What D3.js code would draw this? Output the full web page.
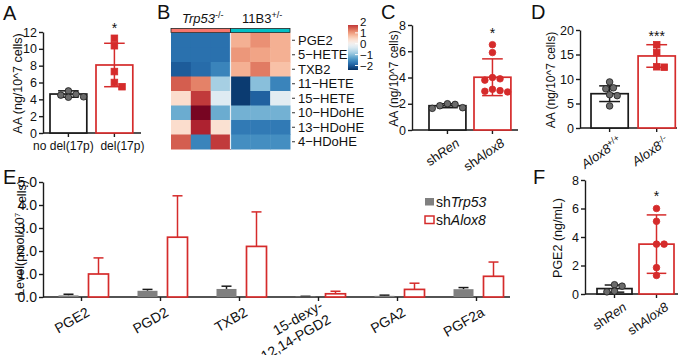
<!DOCTYPE html>
<html>
<head>
<meta charset="utf-8">
<script src="https://cdn.jsdelivr.net/npm/d3@7"></script>
<style>
body { margin: 0; background: #fff; }
text { font-family: "Liberation Sans", Arial, sans-serif; fill: #111; }
</style>
</head>
<body>
<svg id="fig" width="685" height="355"></svg>
<script>
var RED = '#d52b2b';
var DARK = '#1a1a1a';

// panel A - AA level, del(17p)
var aGroups = ['no del(17p)', 'del(17p)'];
var aMeans = [4.63, 8.08];
var aSds = [0.38, 2.58];
var aPoints = [[5.0, 4.6, 4.5, 4.3, 4.25], [11.25, 10.37, 7.3, 6.0, 5.5]];
var aTicks = [0, 2, 4, 6, 8, 10, 12];

// panel B - heatmap (z-scores)
var hmRows = ['PGE2', '5\u2212HETE', 'TXB2', '11\u2212HETE', '15\u2212HETE', '10\u2212HDoHE', '13\u2212HDoHE', '4\u2212HDoHE'];
var hmCols = ['t1', 't2', 't3', 'b1', 'b2', 'b3'];
var hmGroups = ['_Trp53_^{-/-}', '11B3^{+/-}'];
var hmValues = [
    [-1.8, -1.8, -1.8, 0.85, 1.1, 0.85],
    [-1.8, -1.8, -1.8, 1.05, 0.95, 0.85],
    [-2.0, -1.85, -1.6, 0.85, 1.25, 0.7],
    [1.45, 1.2, -0.8, -2.3, -1.0, -1.6],
    [0.4, 1.7, -0.3, -2.3, -1.95, -0.25],
    [-1.2, 2.3, -1.2, -1.15, -1.15, -1.15],
    [0.4, 1.9, 0.35, -1.7, -1.7, -1.7],
    [1.45, -1.6, 1.7, -1.5, -1.5, -1.5]
];
var hmLegendTicks = [2, 1, 0, -1, -2];

// panel C - AA level, shRen vs shAlox8
var cGroups = ['sh_Ren_', 'sh_Alox8_'];
var cMeans = [1.85, 4.02];
var cSds = [0.15, 1.4];
var cPoints = [[2.0, 1.95, 1.85, 1.7, 1.65], [6.5, 5.9, 4.0, 3.9, 3.8, 3.1, 3.0, 2.95, 2.9]];
var cTicks = [0, 2, 4, 6, 8];

// panel D - AA level, Alox8 genotypes
var dGroups = ['_Alox8_^{+/+}', '_Alox8_^{-/-}'];
var dMeans = [7.0, 14.7];
var dSds = [1.6, 2.3];
var dPoints = [[9.4, 8.2, 8.0, 6.8, 6.6, 4.5], [17.0, 15.4, 12.5, 12.4]];
var dTicks = [0, 5, 10, 15, 20];

// panel E - eicosanoid levels
var eCats = ['PGE2', 'PGD2', 'TXB2', '15-dexy-\n12,14-PGD2', 'PGA2', 'PGF2a'];
var eSeries = ['sh_Trp53_', 'sh_Alox8_'];
var eTrp53 = [0.07, 0.27, 0.35, 0.02, 0.05, 0.34];
var eTrp53Err = [0.05, 0.06, 0.12, 0.01, 0.03, 0.07];
var eAlox8 = [1.0, 2.6, 2.2, 0.14, 0.33, 0.9];
var eAlox8Err = [0.7, 1.8, 1.5, 0.11, 0.27, 0.62];
var eTicks = [0, 1, 2, 3, 4, 5];

// panel F - PGE2
var fGroups = ['sh_Ren_', 'sh_Alox8_'];
var fMeans = [0.38, 3.5];
var fSds = [0.25, 2.05];
var fPoints = [[0.65, 0.55, 0.2, 0.15], [6.0, 5.1, 3.5, 3.5, 1.85, 1.3]];
var fTicks = [0, 2, 4, 6, 8];

var svg = d3.select('#fig');

// _x_ = italic, ^{x} = superscript
function rich(sel, str) {
    str.split(/(_[^_]+_|\^\{[^}]+\})/).filter(Boolean).forEach(function (p) {
        if (p[0] === '_') {
            sel.append('tspan').attr('font-style', 'italic').text(p.slice(1, -1));
        } else if (p[0] === '^') {
            sel.append('tspan').attr('font-size', '70%').attr('dy', '-0.5em').text(p.slice(2, -1));
        } else {
            sel.append('tspan').text(p);
        }
    });
}

function styleAxis(g, size) {
    g.select('.domain').attr('stroke', DARK).attr('stroke-width', 1.4);
    g.selectAll('.tick line').attr('stroke', DARK).attr('stroke-width', 1.4);
    g.selectAll('.tick text').attr('font-size', size).attr('fill', '#111')
        .attr('font-family', '"Liberation Sans", Arial, sans-serif');
}

// simple beeswarm so close values do not overlap
function swarm(vals, y, r) {
    var order = vals.map(function (v, i) { return i; }).sort(function (a, b) { return vals[b] - vals[a]; });
    var placed = [], off = [];
    order.forEach(function (i) {
        var py = y(vals[i]);
        for (var k = 0; k < 50; k++) {
            var dx = k === 0 ? 0 : (k % 2 ? 1 : -1) * Math.ceil(k / 2) * r * 1.15;
            var ok = placed.every(function (p) { return Math.hypot(p[0] - dx, p[1] - py) >= 1.9 * r; });
            if (ok) { placed.push([dx, py]); off[i] = dx; break; }
        }
    });
    return off;
}

function letter(t, x, y) {
    svg.append('text').attr('x', x).attr('y', y).attr('font-size', 20).text(t);
}

function yTitle(str, x, y, size) {
    var t = svg.append('text').attr('transform', 'translate(' + x + ',' + y + ') rotate(-90)')
        .attr('text-anchor', 'middle').attr('font-size', size || 12.5);
    rich(t, str);
    return t;
}

function dotBar(o) {
    var g = svg.append('g');
    var y = d3.scaleLinear().domain([0, o.ticks[o.ticks.length - 1]]).range(o.yRange);
    var x = d3.scaleBand().domain(o.groups).range(o.xRange).paddingInner(o.pi).paddingOuter(0.1);
    var bw = x.bandwidth();
    var colors = [DARK, RED];

    g.append('g').attr('transform', 'translate(' + o.axisX + ',0)')
        .call(d3.axisLeft(y).tickValues(o.ticks).tickSize(4).tickSizeOuter(0).tickPadding(2))
        .call(styleAxis, 12.5);
    g.append('line').attr('x1', o.axisX).attr('x2', o.xEnd).attr('y1', y(0)).attr('y2', y(0))
        .attr('stroke', DARK).attr('stroke-width', 1.4);

    o.groups.forEach(function (grp, i) {
        var cx = x(grp) + bw / 2;
        g.append('line').attr('x1', cx).attr('x2', cx).attr('y1', y(0)).attr('y2', y(0) + 4)
            .attr('stroke', DARK).attr('stroke-width', 1.4);
        g.append('rect').attr('x', x(grp)).attr('y', y(o.means[i]))
            .attr('width', bw).attr('height', y(0) - y(o.means[i]))
            .attr('fill', '#fff').attr('stroke', colors[i]).attr('stroke-width', 1.7);
        var top = y(o.means[i] + o.sds[i]), bot = y(o.means[i] - o.sds[i]), cap = bw * 0.28;
        g.append('line').attr('x1', cx).attr('x2', cx).attr('y1', top).attr('y2', bot)
            .attr('stroke', colors[i]).attr('stroke-width', 1.5);
        [top, bot].forEach(function (yy) {
            g.append('line').attr('x1', cx - cap).attr('x2', cx + cap).attr('y1', yy).attr('y2', yy)
                .attr('stroke', colors[i]).attr('stroke-width', 1.5);
        });
        var r = 3.3;
        var off = swarm(o.points[i], y, r);
        var fill = i === 0 ? '#6b6b6b' : RED, stroke = i === 0 ? DARK : RED;
        o.points[i].forEach(function (v, k) {
            if (o.shapes[i] === 'square') {
                g.append('rect').attr('x', cx + off[k] - r).attr('y', y(v) - r)
                    .attr('width', 2 * r).attr('height', 2 * r)
                    .attr('fill', fill).attr('stroke', stroke).attr('stroke-width', 0.8);
            } else {
                g.append('circle').attr('cx', cx + off[k]).attr('cy', y(v)).attr('r', r)
                    .attr('fill', fill).attr('stroke', stroke).attr('stroke-width', 0.8);
            }
        });
        var lab = g.append('text').attr('font-size', o.rotate ? 13 : 12);
        if (o.rotate) {
            lab.attr('text-anchor', 'end')
                .attr('transform', 'translate(' + (cx + 13) + ',' + (y(0) + 15) + ') rotate(' + o.rotate + ')');
        } else {
            // labels spread slightly apart so they clear each other
            lab.attr('text-anchor', 'middle').attr('x', cx + (i === 0 ? -5 : 8)).attr('y', y(0) + 17);
        }
        rich(lab, grp);
    });

    var sx = x(o.groups[1]) + bw / 2;
    g.append('text').attr('x', sx).attr('y', o.sigY).attr('text-anchor', 'middle')
        .attr('font-size', 14).text(o.sig);
    yTitle(o.title, o.titleX, (o.yRange[0] + o.yRange[1]) / 2 + 1, o.titleSize);
}

// ---------- A
letter('A', 3, 20);
dotBar({
    groups: aGroups, means: aMeans, sds: aSds, points: aPoints, ticks: aTicks,
    yRange: [133, 32], xRange: [45.4, 137.4], pi: 0.2, axisX: 43, xEnd: 141,
    shapes: ['circle', 'square'], sig: '*', sigY: 33, title: 'AA (ng/10^7 cells)', titleX: 22
});

// ---------- B heatmap
letter('B', 157, 19);
(function () {
    var g = svg.append('g');
    var hx = d3.scaleBand().domain(hmCols).range([171, 290]);
    var hy = d3.scaleBand().domain(hmRows).range([33, 149]);
    var hmColor = function (v) { return d3.interpolateRdBu(Math.max(0, Math.min(1, 0.5 - v / 4.8))); };

    hmRows.forEach(function (row, i) {
        hmCols.forEach(function (col, j) {
            g.append('rect').attr('x', hx(col)).attr('y', hy(row))
                .attr('width', hx.bandwidth() + 0.5).attr('height', hy.bandwidth() + 0.5)
                .attr('fill', hmColor(hmValues[i][j]));
        });
        var yy = hy(row) + hy.bandwidth() / 2;
        g.append('line').attr('x1', 292).attr('x2', 295).attr('y1', yy).attr('y2', yy)
            .attr('stroke', '#333').attr('stroke-width', 1);
        g.append('text').attr('x', 298).attr('y', yy + 4.5).attr('font-size', 13).text(row);
    });
    var split = hx('b1');
    g.append('line').attr('x1', split).attr('x2', split).attr('y1', 29).attr('y2', 149)
        .attr('stroke', '#e8eef4').attr('stroke-width', 1.2);

    // column annotation bars
    var annColors = ['#F8766D', '#00BFC4'];
    [[hmCols[0], hmCols[2]], [hmCols[3], hmCols[5]]].forEach(function (pair, k) {
        var x0 = hx(pair[0]), x1 = hx(pair[1]) + hx.bandwidth();
        g.append('rect').attr('x', x0).attr('y', 28.5).attr('width', x1 - x0).attr('height', 4)
            .attr('fill', annColors[k]).attr('stroke', '#222').attr('stroke-width', 0.8);
        var t = g.append('text').attr('x', (x0 + x1) / 2 + 2).attr('y', 23)
            .attr('text-anchor', 'middle').attr('font-size', 13);
        rich(t, hmGroups[k]);
    });

    // colour legend
    var ly = d3.scaleLinear().domain([-2, 2]).range([65.5, 22]);
    var grad = svg.append('defs').append('linearGradient').attr('id', 'hmgrad')
        .attr('x1', 0).attr('x2', 0).attr('y1', 0).attr('y2', 1);
    var vTop = ly.invert(25), vBot = ly.invert(70);
    d3.range(0, 1.0001, 0.05).forEach(function (f) {
        grad.append('stop').attr('offset', f).attr('stop-color', hmColor(vTop + (vBot - vTop) * f));
    });
    g.append('rect').attr('x', 348).attr('y', 25).attr('width', 10).attr('height', 45)
        .attr('fill', 'url(#hmgrad)');
    hmLegendTicks.forEach(function (v) {
        if (ly(v) > 26 && ly(v) < 69) {
            g.append('line').attr('x1', 355).attr('x2', 358).attr('y1', ly(v)).attr('y2', ly(v))
                .attr('stroke', '#fff').attr('stroke-width', 1);
        }
        g.append('text').attr('x', 360).attr('y', ly(v) + 4).attr('font-size', 11.5)
            .text(v < 0 ? '\u2212' + Math.abs(v) : v);
    });
})();

// ---------- C
letter('C', 381, 19);
dotBar({
    groups: cGroups, means: cMeans, sds: cSds, points: cPoints, ticks: cTicks,
    yRange: [130, 25], xRange: [424.5, 515.4], pi: 0.18, axisX: 412, xEnd: 518,
    shapes: ['circle', 'circle'], sig: '*', sigY: 38, title: 'AA (ng/10^7 cells)', titleX: 398,
    titleSize: 12, rotate: -35
});

// ---------- D
letter('D', 531, 19);
dotBar({
    groups: dGroups, means: dMeans, sds: dSds, points: dPoints, ticks: dTicks,
    yRange: [128, 30], xRange: [586.3, 680], pi: 0.21, axisX: 580, xEnd: 677,
    shapes: ['circle', 'square'], sig: '***', sigY: 41, title: 'AA (ng/10^7 cells)', titleX: 555,
    titleSize: 12, rotate: -35
});

// ---------- E
letter('E', 3, 184);
(function () {
    var g = svg.append('g');
    var y = d3.scaleLinear().domain([0, 5]).range([297, 182]);
    var x = d3.scaleBand().domain(eCats).range([42, 516]);
    var xs = d3.scaleBand().domain(eSeries).range([-23, 27]).paddingInner(1 / 3);
    var sw = xs.bandwidth();

    g.append('g').attr('transform', 'translate(43,0)')
        .call(d3.axisLeft(y).tickValues(eTicks).tickSize(4).tickSizeOuter(0).tickPadding(2))
        .call(styleAxis, 14);
    g.append('line').attr('x1', 43).attr('x2', 510).attr('y1', y(0)).attr('y2', y(0))
        .attr('stroke', DARK).attr('stroke-width', 1.4);

    var series = [
        { key: eSeries[0], vals: eTrp53, err: eTrp53Err, fill: '#808080', stroke: 'none', ec: DARK },
        { key: eSeries[1], vals: eAlox8, err: eAlox8Err, fill: '#fff', stroke: RED, ec: RED }
    ];

    eCats.forEach(function (cat, i) {
        var cx = x(cat) + x.bandwidth() / 2;
        series.forEach(function (s) {
            var bx = cx + xs(s.key);
            var bc = bx + sw / 2;
            var top = y(s.vals[i] + s.err[i]);
            g.append('line').attr('x1', bc).attr('x2', bc).attr('y1', y(s.vals[i])).attr('y2', top)
                .attr('stroke', s.ec).attr('stroke-width', 1.5);
            g.append('line').attr('x1', bc - 5).attr('x2', bc + 5).attr('y1', top).attr('y2', top)
                .attr('stroke', s.ec).attr('stroke-width', 1.5);
            g.append('rect').attr('x', bx).attr('y', y(s.vals[i]))
                .attr('width', sw).attr('height', y(0) - y(s.vals[i]))
                .attr('fill', s.fill).attr('stroke', s.stroke).attr('stroke-width', 1.7);
        });
        g.append('line').attr('x1', cx).attr('x2', cx).attr('y1', y(0)).attr('y2', y(0) + 4)
            .attr('stroke', DARK).attr('stroke-width', 1.4);
        var lines = cat.split('\n');
        var shift = (lines.length - 1) * 7.5;
        var t = g.append('text').attr('text-anchor', 'end').attr('font-size', 14)
            .attr('transform', 'translate(' + (cx + 9 - shift * 0.5) + ',' + (y(0) + 18 - shift * 0.87) + ') rotate(-30)');
        lines.forEach(function (ln, k) {
            t.append('tspan').attr('x', 0).attr('dy', k === 0 ? 0 : '1.15em').text(ln);
        });
    });

    // legend
    series.forEach(function (s, k) {
        var ly = 198 + k * 18;
        g.append('rect').attr('x', 425).attr('y', ly).attr('width', 9).attr('height', 7.5)
            .attr('fill', s.fill).attr('stroke', s.stroke === 'none' ? 'none' : s.stroke).attr('stroke-width', 1.5);
        var t = g.append('text').attr('x', 436).attr('y', ly + 8.5).attr('font-size', 14);
        rich(t, s.key);
    });

    var yt = svg.append('text').attr('transform', 'translate(24,238) rotate(-90)')
        .attr('text-anchor', 'middle').attr('font-size', 12.5);
    yt.append('tspan').text('Level(pmol/10');
    yt.append('tspan').attr('font-size', '65%').attr('dy', '-0.55em').text('7');
    yt.append('tspan').attr('dy', '0.55em').text(' cells)');
})();

// ---------- F
letter('F', 533, 184);
dotBar({
    groups: fGroups, means: fMeans, sds: fSds, points: fPoints, ticks: fTicks,
    yRange: [294, 180], xRange: [592.8, 678.2], pi: 0.167, axisX: 585, xEnd: 678,
    shapes: ['circle', 'circle'], sig: '*', sigY: 201, title: 'PGE2 (ng/mL)', titleX: 562,
    rotate: -35
});
</script>
</body>
</html>
